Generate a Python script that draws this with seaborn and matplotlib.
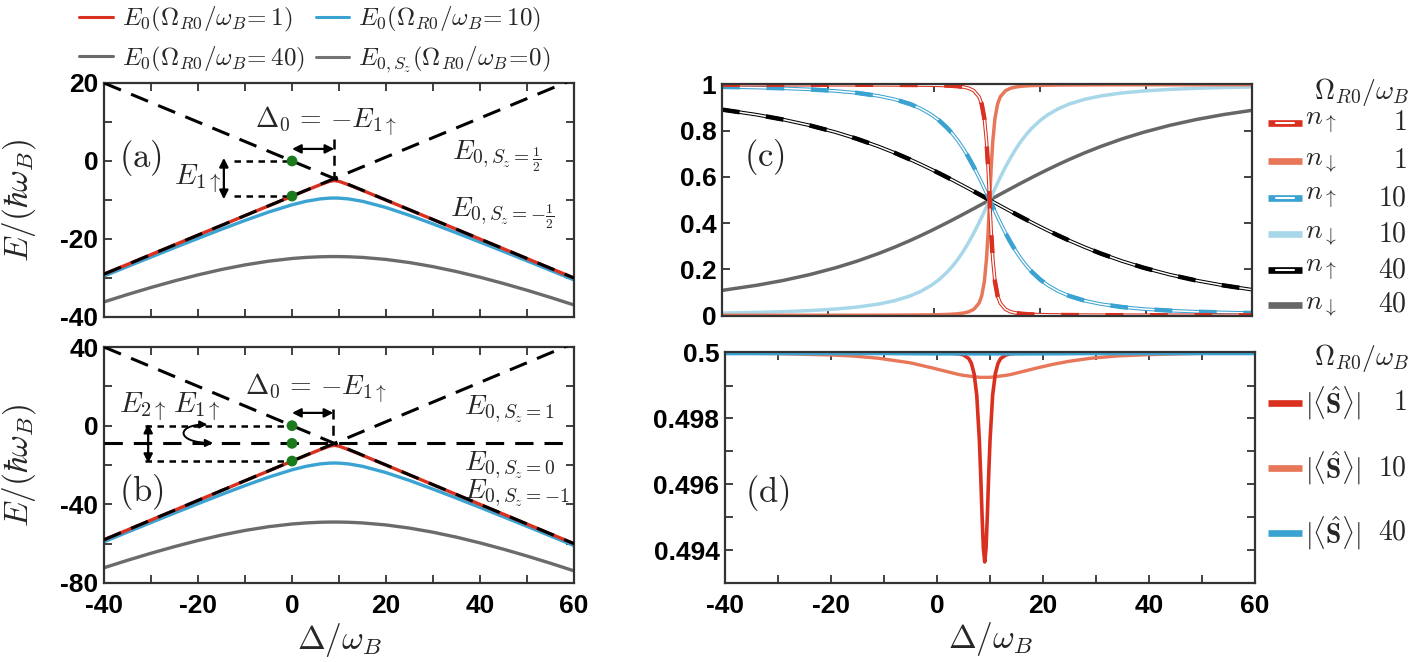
import matplotlib
matplotlib.use("Agg")
import matplotlib.pyplot as plt
import seaborn as sns
from matplotlib.lines import Line2D
from matplotlib.patches import FancyArrowPatch
from matplotlib.path import Path

sns.set_theme(style="ticks")
plt.rcParams['font.family'] = ['Liberation Sans', 'DejaVu Sans']
plt.rcParams['mathtext.fontset'] = 'cm'
plt.rcParams['axes.unicode_minus'] = False

RED = "#d9301f"
ORANGE = "#e8775a"
BLUE = "#3aa3d2"
LBLUE = "#a8d7ea"
GRAY = "#666666"
GREEN = "#1b7a1b"

# ---------------- data ----------------
# panels (a), (b): ground-state energies vs detuning
delta_ab = [-40, -35, -30, -25, -20, -15, -10, -5, 0, 3, 6, 8, 9, 10, 12, 15, 20, 25, 30, 35, 40, 45, 50, 55, 60]
e0_a_om1 = [-29.0, -26.51, -24.0, -21.51, -19.0, -16.51, -14.0, -11.52, -9.03, -7.54, -6.08, -5.21, -5.0,
            -5.21, -6.08, -7.54, -10.02, -12.52, -15.01, -17.51, -20.01, -22.51, -25.01, -27.51, -30.0]
e0_a_om10 = [-29.5, -27.06, -24.63, -22.22, -19.84, -17.5, -15.24, -13.10, -11.23, -10.33, -9.72, -9.52, -9.5,
             -9.52, -9.72, -10.33, -11.93, -13.93, -16.13, -18.43, -20.79, -23.18, -25.60, -28.04, -30.49]
e0_a_om40 = [-36.13, -34.23, -32.43, -30.75, -29.20, -27.82, -26.64, -25.69, -25.0, -24.72, -24.56, -24.51, -24.5,
             -24.51, -24.56, -24.72, -25.24, -26.04, -27.09, -28.35, -29.80, -31.41, -33.14, -34.98, -36.91]
e0_b_om1 = [-58.0, -53.02, -48.0, -43.02, -38.0, -33.02, -28.0, -23.04, -18.06, -15.08, -12.16, -10.41, -10.0,
            -10.41, -12.16, -15.08, -20.05, -25.03, -30.02, -35.02, -40.02, -45.02, -50.01, -55.02, -60.0]
e0_b_om10 = [-59.0, -54.12, -49.26, -44.44, -39.68, -35.0, -30.48, -26.20, -22.45, -20.66, -19.44, -19.05, -19.0,
             -19.05, -19.44, -20.66, -23.87, -27.87, -32.26, -36.86, -41.57, -46.36, -51.20, -56.08, -60.97]
e0_b_om40 = [-72.25, -68.46, -64.87, -61.50, -58.40, -55.64, -53.28, -51.38, -50.0, -49.45, -49.11, -49.01, -49.0,
             -49.01, -49.11, -49.45, -50.48, -52.08, -54.18, -56.70, -59.61, -62.82, -66.28, -69.96, -73.82]

# diabatic (Omega = 0) levels
diab_x = [-40, 60]
diab_a_half = [-29, 21]
diab_a_mhalf = [20, -30]
diab_b_p1 = [-58, 42]
diab_b_0 = [-9, -9]
diab_b_m1 = [40, -60]

# green markers
dots_a_x = [0, 0]
dots_a_y = [0, -9]
dots_b_x = [0, 0, 0]
dots_b_y = [0, -9, -18]

# panel (c): populations
delta_c = [-40, -33.5, -28.5, -23.5, -18.5, -14.5, -10.5, -7.5, -4.5, -2.5, -0.5, 1, 2.5, 3.5, 4.5, 5.5,
           6.5, 7.5, 8.5, 9, 9.5, 9.9, 10.2, 10.5, 10.8, 11.1, 11.5, 12, 12.5, 13.5, 14.5, 15.5, 16.5,
           17.5, 18.5, 20, 21.5, 23.5, 25.5, 28.5, 31.5, 35.5, 39.5, 44.5, 49.5, 54.5, 60]
n_up_1 = [0.9999, 0.99987, 0.99984, 0.99978, 0.9997, 0.9996, 0.99943, 0.99923, 0.99889, 0.99852, 0.99794,
          0.99725, 0.99614, 0.99497, 0.9932, 0.99029, 0.98507, 0.97434, 0.94721, 0.91603, 0.85355, 0.75725,
          0.64368, 0.5, 0.35632, 0.24275, 0.14645, 0.08397, 0.05279, 0.02566, 0.01493, 0.00971, 0.0068,
          0.00503, 0.00386, 0.00275, 0.00206, 0.00148, 0.00111, 0.00077, 0.00057, 0.0004, 0.0003, 0.00022,
          0.00016, 0.00013, 0.0001]
n_dn_1 = [0.0001, 0.00013, 0.00016, 0.00022, 0.0003, 0.0004, 0.00057, 0.00077, 0.00111, 0.00148, 0.00206,
          0.00275, 0.00386, 0.00503, 0.0068, 0.00971, 0.01493, 0.02566, 0.05279, 0.08397, 0.14645, 0.24275,
          0.35632, 0.5, 0.64368, 0.75725, 0.85355, 0.91603, 0.94721, 0.97434, 0.98507, 0.99029, 0.9932,
          0.99497, 0.99614, 0.99725, 0.99794, 0.99852, 0.99889, 0.99923, 0.99943, 0.9996, 0.9997, 0.99978,
          0.99984, 0.99987, 0.9999]
n_up_10 = [0.99048, 0.98756, 0.98434, 0.97968, 0.97268, 0.96424, 0.95143, 0.93708, 0.91603, 0.89632, 0.86997,
           0.84438, 0.81235, 0.78673, 0.75725, 0.72361, 0.6857, 0.64368, 0.59806, 0.57417, 0.54975, 0.52995,
           0.51499, 0.5, 0.48501, 0.47005, 0.45025, 0.42583, 0.40194, 0.35632, 0.3143, 0.27639, 0.24275,
           0.21327, 0.18765, 0.15562, 0.13003, 0.10368, 0.08397, 0.06292, 0.04857, 0.03576, 0.02732, 0.02032,
           0.01566, 0.01244, 0.0099]
n_dn_10 = [0.00952, 0.01244, 0.01566, 0.02032, 0.02732, 0.03576, 0.04857, 0.06292, 0.08397, 0.10368, 0.13003,
           0.15562, 0.18765, 0.21327, 0.24275, 0.27639, 0.3143, 0.35632, 0.40194, 0.42583, 0.45025, 0.47005,
           0.48501, 0.5, 0.51499, 0.52995, 0.54975, 0.57417, 0.59806, 0.64368, 0.6857, 0.72361, 0.75725,
           0.78673, 0.81235, 0.84438, 0.86997, 0.89632, 0.91603, 0.93708, 0.95143, 0.96424, 0.97268, 0.97968,
           0.98434, 0.98756, 0.9901]
n_up_40 = [0.89195, 0.86997, 0.84905, 0.82382, 0.79349, 0.765, 0.73242, 0.70518, 0.67556, 0.65454, 0.63258,
           0.61553, 0.59806, 0.58619, 0.57417, 0.56202, 0.54975, 0.5374, 0.52497, 0.51874, 0.5125, 0.5075,
           0.50375, 0.5, 0.49625, 0.4925, 0.4875, 0.48126, 0.47503, 0.4626, 0.45025, 0.43798, 0.42583,
           0.41381, 0.40194, 0.38447, 0.36742, 0.34546, 0.32444, 0.29482, 0.26758, 0.235, 0.20651, 0.17618,
           0.15095, 0.13003, 0.1111]
n_dn_40 = [0.10805, 0.13003, 0.15095, 0.17618, 0.20651, 0.235, 0.26758, 0.29482, 0.32444, 0.34546, 0.36742,
           0.38447, 0.40194, 0.41381, 0.42583, 0.43798, 0.45025, 0.4626, 0.47503, 0.48126, 0.4875, 0.4925,
           0.49625, 0.5, 0.50375, 0.5075, 0.5125, 0.51874, 0.52497, 0.5374, 0.54975, 0.56202, 0.57417,
           0.58619, 0.59806, 0.61553, 0.63258, 0.65454, 0.67556, 0.70518, 0.73242, 0.765, 0.79349, 0.82382,
           0.84905, 0.86997, 0.8889]

# panel (d): spin length
delta_d = [-40, -30, -20, -16, -11, -5, -1, 2, 4, 5, 6, 6.5, 7, 7.5, 8, 8.25, 8.5, 8.75, 9,
           9.25, 9.5, 9.75, 10, 10.5, 11, 11.5, 12, 13, 14, 16, 19, 22, 25, 29, 34, 40, 50, 60]
s_om1 = [0.5, 0.5, 0.5, 0.5, 0.5, 0.5, 0.5, 0.49999, 0.49997, 0.49993, 0.49982, 0.49967, 0.49936,
         0.49871, 0.49732, 0.49626, 0.49506, 0.49405, 0.49364, 0.49405, 0.49506, 0.49626, 0.49732,
         0.49871, 0.49936, 0.49967, 0.49982, 0.49993, 0.49997, 0.49999, 0.5, 0.5, 0.5, 0.5, 0.5,
         0.5, 0.5, 0.5]
s_om10 = [0.49999, 0.49997, 0.49993, 0.4999, 0.49983, 0.49969, 0.49954, 0.49942, 0.49934, 0.49931,
          0.49929, 0.49928, 0.49927, 0.49926, 0.49925, 0.49925, 0.49925, 0.49925, 0.49925, 0.49925,
          0.49925, 0.49925, 0.49925, 0.49926, 0.49927, 0.49928, 0.49929, 0.49931, 0.49934, 0.49942,
          0.49954, 0.49965, 0.49974, 0.49983, 0.4999, 0.49994, 0.49998, 0.49999]
delta_d40 = [-40, -10, 0, 9, 18, 30, 60]
s_om40 = [0.49997, 0.49997, 0.49996, 0.49996, 0.49996, 0.49997, 0.49997]

# ---------------- figure ----------------
W, H = 1420, 662
fig = plt.figure(figsize=(14.2, 6.62), dpi=100)
ax_a = fig.add_axes([104 / W, 1 - 317 / H, 470 / W, 234 / H])
ax_b = fig.add_axes([104 / W, 1 - 583 / H, 470 / W, 236 / H])
ax_c = fig.add_axes([722 / W, 1 - 316 / H, 530 / W, 232 / H])
ax_d = fig.add_axes([725 / W, 1 - 583 / H, 530 / W, 231 / H])

LONG = (0, (6, 3.6))
SHORT = (0, (2.6, 2.2))


def style(ax, xmaj, xmin, ymaj, ymin, ylabels, xlabels=None):
    for s in ax.spines.values():
        s.set_visible(True)
        s.set_color('#333333')
        s.set_linewidth(1.6)
    ax.set_xticks(xmaj)
    ax.set_xticks(xmin, minor=True)
    ax.set_yticks(ymaj)
    ax.set_yticks(ymin, minor=True)
    ax.set_yticklabels(ylabels)
    ax.set_xticklabels(xlabels if xlabels is not None else [])
    ax.tick_params(which='both', direction='in', top=True, right=True, length=6, width=1.3,
                   color='#333333', labelcolor='black', labelsize=19)
    ax.tick_params(axis='y', pad=4)
    ax.tick_params(axis='x', pad=8)
    for t in ax.get_xticklabels() + ax.get_yticklabels():
        t.set_fontweight('bold')


def dbl_arrow(ax, p0, p1, ms=13):
    ax.add_patch(FancyArrowPatch(p0, p1, arrowstyle='<|-|>', mutation_scale=ms,
                                 color='black', lw=1.6, shrinkA=0, shrinkB=0, zorder=6))


# ---- (a) spin 1/2 energies ----
sns.lineplot(x=delta_ab, y=e0_a_om40, ax=ax_a, color="#6b6b6b", lw=2.4)
sns.lineplot(x=delta_ab, y=e0_a_om10, ax=ax_a, color=BLUE, lw=2.4)
sns.lineplot(x=delta_ab, y=e0_a_om1, ax=ax_a, color=RED, lw=2.4)
sns.lineplot(x=diab_x, y=diab_a_half, ax=ax_a, color='black', lw=2.2, linestyle=LONG, zorder=5)
sns.lineplot(x=diab_x, y=diab_a_mhalf, ax=ax_a, color='black', lw=2.2, linestyle=LONG, zorder=5)
ax_a.plot([-12.4, 0], [0, 0], color='black', lw=1.8, linestyle=SHORT)
ax_a.plot([-12.4, 0], [-9, -9], color='black', lw=1.8, linestyle=SHORT)
ax_a.plot([9, 9], [5.6, -4.5], color='black', lw=1.8, linestyle=(0, (4, 2.5)))
sns.scatterplot(x=dots_a_x, y=dots_a_y, ax=ax_a, color=GREEN, s=60, edgecolor='none', zorder=7)
dbl_arrow(ax_a, (0, 3.1), (9, 3.1))
dbl_arrow(ax_a, (-14.5, 0.8), (-14.5, -9.8))
ax_a.text(7.3, 10, r"$\Delta_0\,=\,{-}E_{1\uparrow}$", fontsize=20, ha='center', va='center')
ax_a.text(-20.0, -4.6, r"$E_{1\uparrow}$", fontsize=21, ha='center', va='center')
ax_a.text(34, 1.2, r"$E_{0,S_z=\frac{1}{2}}$", fontsize=20, ha='left', va='center')
ax_a.text(33.6, -13.3, r"$E_{0,S_z=-\frac{1}{2}}$", fontsize=20, ha='left', va='center')
ax_a.text(-36.8, 0.8, r"$(\mathrm{a})$", fontsize=25, ha='left', va='center')
ax_a.set_xlim(-40, 60)
ax_a.set_ylim(-40, 20)
style(ax_a, [-40, -20, 0, 20, 40, 60], [-30, -10, 10, 30, 50],
      [-40, -20, 0, 20], [-30, -10, 10], ['-40', '-20', '0', '20'])
ax_a.set_ylabel(r"$E/(\hbar\omega_B)$", fontsize=24)
ax_a.yaxis.set_label_coords(-0.14, 0.5)

# ---- (b) spin 1 energies ----
sns.lineplot(x=delta_ab, y=e0_b_om40, ax=ax_b, color="#6b6b6b", lw=2.4)
sns.lineplot(x=delta_ab, y=e0_b_om10, ax=ax_b, color=BLUE, lw=2.4)
sns.lineplot(x=delta_ab, y=e0_b_om1, ax=ax_b, color=RED, lw=2.4)
for yy in (diab_b_p1, diab_b_0, diab_b_m1):
    sns.lineplot(x=diab_x, y=yy, ax=ax_b, color='black', lw=2.2, linestyle=LONG, zorder=5)
ax_b.plot([-31.3, 0], [0, 0], color='black', lw=1.8, linestyle=SHORT)
ax_b.plot([-31.3, 0], [-18, -18], color='black', lw=1.8, linestyle=SHORT)
ax_b.plot([8.8, 8.8], [8.5, -9], color='black', lw=1.8, linestyle=(0, (4, 2.5)))
sns.scatterplot(x=dots_b_x, y=dots_b_y, ax=ax_b, color=GREEN, s=60, edgecolor='none', zorder=7)
dbl_arrow(ax_b, (0, 6.5), (8.8, 6.5))
dbl_arrow(ax_b, (-30.6, 1.0), (-30.6, -19.0))
swap = Path([(-18.0, 0.6), (-24.8, 0.6), (-24.8, -8.8), (-16.8, -8.8)],
            [Path.MOVETO, Path.CURVE4, Path.CURVE4, Path.CURVE4])
ax_b.add_patch(FancyArrowPatch(path=swap, arrowstyle='<|-|>', mutation_scale=11,
                               color='black', lw=1.4, zorder=6))
ax_b.text(5.0, 18.5, r"$\Delta_0\,=\,{-}E_{1\uparrow}$", fontsize=20, ha='center', va='center')
ax_b.text(-31.8, 9.5, r"$E_{2\uparrow}$", fontsize=21, ha='center', va='center')
ax_b.text(-20.3, 9.5, r"$E_{1\uparrow}$", fontsize=21, ha='center', va='center')
ax_b.text(36.5, 8.2, r"$E_{0,S_z=1}$", fontsize=20, ha='left', va='center')
ax_b.text(36.5, -20, r"$E_{0,S_z=0}$", fontsize=20, ha='left', va='center')
ax_b.text(36.5, -34.4, r"$E_{0,S_z=-1}$", fontsize=20, ha='left', va='center')
ax_b.text(-36.8, -33.5, r"$(\mathrm{b})$", fontsize=25, ha='left', va='center')
ax_b.set_xlim(-40, 60)
ax_b.set_ylim(-80, 40)
style(ax_b, [-40, -20, 0, 20, 40, 60], [-30, -10, 10, 30, 50],
      [-80, -40, 0, 40], [-60, -20, 20], ['-80', '-40', '0', '40'],
      ['-40', '-20', '0', '20', '40', '60'])
ax_b.set_ylabel(r"$E/(\hbar\omega_B)$", fontsize=24)
ax_b.yaxis.set_label_coords(-0.14, 0.5)
ax_b.set_xlabel(r"$\Delta/\omega_B$", fontsize=24)
ax_b.xaxis.set_label_coords(0.5, -0.16)


# ---- (c) populations ----
def dashed_double(ax, x, y, color):
    sns.lineplot(x=x, y=y, ax=ax, color=color, lw=2.6)
    sns.lineplot(x=x, y=y, ax=ax, color='white', lw=1.1)
    sns.lineplot(x=x, y=y, ax=ax, color=color, lw=3.2, linestyle=(0, (4, 6)))


sns.lineplot(x=delta_c, y=n_dn_40, ax=ax_c, color=GRAY, lw=2.5)
dashed_double(ax_c, delta_c, n_up_40, 'black')
sns.lineplot(x=delta_c, y=n_dn_10, ax=ax_c, color=LBLUE, lw=2.5)
dashed_double(ax_c, delta_c, n_up_10, BLUE)
sns.lineplot(x=delta_c, y=n_dn_1, ax=ax_c, color=ORANGE, lw=2.5)
dashed_double(ax_c, delta_c, n_up_1, RED)
ax_c.text(-32.0, 0.685, r"$(\mathrm{c})$", fontsize=25, ha='center', va='center')
ax_c.set_xlim(-40, 60)
ax_c.set_ylim(-0.003, 1.003)
style(ax_c, [-20, 0, 20, 40], [], [0, 0.2, 0.4, 0.6, 0.8, 1.0], [],
      ['0', '0.2', '0.4', '0.6', '0.8', '1'])

# ---- (d) spin length ----
sns.lineplot(x=delta_d, y=s_om10, ax=ax_d, color=ORANGE, lw=2.4)
sns.lineplot(x=delta_d, y=s_om1, ax=ax_d, color=RED, lw=2.6)
sns.lineplot(x=delta_d40, y=s_om40, ax=ax_d, color=BLUE, lw=2.4)
ax_d.text(-32.0, 0.49573, r"$(\mathrm{d})$", fontsize=25, ha='center', va='center')
ax_d.set_xlim(-40, 60)
ax_d.set_ylim(0.493, 0.50002)
style(ax_d, [-40, -20, 0, 20, 40, 60], [-30, -10, 10, 30, 50],
      [0.494, 0.496, 0.498, 0.5], [0.495, 0.497, 0.499], ['0.494', '0.496', '0.498', '0.5'],
      ['-40', '-20', '0', '20', '40', '60'])
ax_d.set_xlabel(r"$\Delta/\omega_B$", fontsize=24)
ax_d.xaxis.set_label_coords(0.5, -0.16)

# ---- top-left legend ----
handles = [Line2D([], [], color=RED, lw=2.2), Line2D([], [], color="#6b6b6b", lw=2.2),
           Line2D([], [], color=BLUE, lw=2.2), Line2D([], [], color="#737373", lw=2.2)]
labels = [r"$E_0(\Omega_{R0}/\omega_B\!=1)$", r"$E_0(\Omega_{R0}/\omega_B\!=40)$",
          r"$E_0(\Omega_{R0}/\omega_B\!=10)$", r"$E_{0,S_z}(\Omega_{R0}/\omega_B\!=\!0)$"]
fig.legend(handles, labels, ncol=2, loc='upper left', bbox_to_anchor=(74 / W, 1.0),
           frameon=False, fontsize=18, handlelength=1.35, handletextpad=0.35,
           columnspacing=0.45, labelspacing=0.42, borderaxespad=0.1, borderpad=0.1)


# ---- right-hand legends (drawn by hand) ----
def fx(px):
    return px / W


def fy(py):
    return 1 - py / H


def legend_row(py, color, label, value, double=False):
    fig.add_artist(Line2D([fx(1268), fx(1302)], [fy(py), fy(py)], color=color, lw=4.8,
                          solid_capstyle='butt'))
    if double:
        fig.add_artist(Line2D([fx(1276), fx(1294)], [fy(py), fy(py)], color='white', lw=1.5))
    fig.text(fx(1305), fy(py), label, fontsize=20, ha='left', va='center')
    fig.text(fx(1407), fy(py), value, fontsize=20, ha='right', va='center')


fig.text(fx(1362), fy(92), r"$\Omega_{R0}/\omega_B$", fontsize=20, ha='center', va='center')
c_rows = [123, 161, 198, 234, 270, 305]
c_cols = [RED, ORANGE, BLUE, LBLUE, 'black', GRAY]
c_labs = [r"$n_\uparrow$", r"$n_\downarrow$"] * 3
c_vals = [r"$1$", r"$1$", r"$10$", r"$10$", r"$40$", r"$40$"]
for i in range(6):
    legend_row(c_rows[i], c_cols[i], c_labs[i], c_vals[i], double=(i % 2 == 0))

fig.text(fx(1362), fy(358), r"$\Omega_{R0}/\omega_B$", fontsize=20, ha='center', va='center')
d_rows = [403, 468, 533]
d_cols = [RED, ORANGE, BLUE]
d_vals = [r"$1$", r"$10$", r"$40$"]
for i in range(3):
    legend_row(d_rows[i], d_cols[i], r"$|\langle\hat{\mathbf{S}}\rangle|$", d_vals[i])

fig.savefig("out.png", dpi=100)
